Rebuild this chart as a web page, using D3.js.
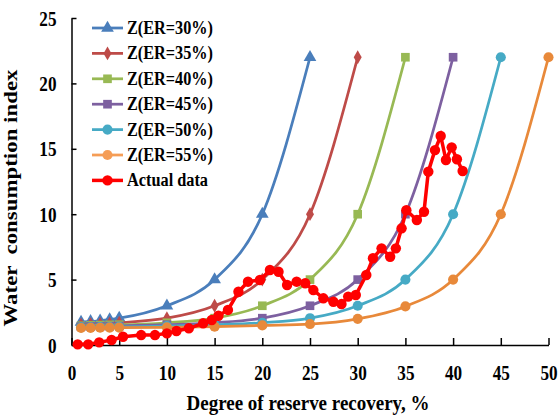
<!DOCTYPE html>
<html>
<head>
<meta charset="utf-8">
<script src="https://cdn.jsdelivr.net/npm/d3@7"></script>
<style>
  body { margin: 0; background: #fff; }
  text { font-family: "Liberation Serif", "Times New Roman", serif; font-weight: bold; fill: #000; }
</style>
</head>
<body>
<div id="chart"></div>
<script>
// degree of reserve recovery (x) for the model curves
const xCurve = [1, 2, 3, 4, 5, 10, 15, 20, 25, 30, 35, 40, 45, 50];

// model curves Z(ER)
const z30 = [1.75, 1.8, 1.85, 1.95, 2.05, 3.0, 5.0, 10.0, 22];
const z35 = [1.55, 1.6, 1.62, 1.65, 1.7, 2.05, 3.0, 5.0, 10.0, 22];
const z40 = [1.47, 1.5, 1.52, 1.54, 1.55, 1.7, 2.05, 3.0, 5.0, 10.0, 22];
const z45 = [1.4, 1.42, 1.43, 1.44, 1.45, 1.55, 1.7, 2.05, 3.0, 5.0, 10.0, 22];
const z50 = [1.35, 1.36, 1.37, 1.38, 1.39, 1.45, 1.55, 1.7, 2.05, 3.0, 5.0, 10.0, 22];
const z55 = [1.3, 1.31, 1.32, 1.33, 1.33, 1.35, 1.4, 1.5, 1.6, 2.0, 2.95, 5.0, 10.0, 22];

// actual data
const actualX = [0.65, 1.75, 2.9, 4.2, 5.4, 7.3, 8.75, 10.0, 11.0, 12.3, 13.8, 14.7, 15.4, 16.4, 17.5, 18.5, 19.75, 20.8, 21.7,
  22.6, 23.6, 24.5, 25.35, 26.4, 27.45, 28.3, 29.0, 29.8, 30.9, 31.6, 32.5, 33.4, 34.0, 34.6, 35.1, 36.2, 36.95, 37.4,
  38.1, 38.7, 39.25, 39.85, 40.4, 41.0];
const actualY = [0.05, 0.05, 0.2, 0.38, 0.63, 0.76, 0.76, 0.89, 1.07, 1.28, 1.66, 1.91, 2.24, 2.68, 4.07, 4.84, 4.97, 5.73, 5.6,
  4.59, 4.84, 4.72, 4.2, 3.57, 3.31, 3.13, 3.7, 3.82, 5.35, 6.63, 7.39, 6.75, 7.39, 8.92, 10.3, 9.56, 10.19, 13.25,
  14.9, 15.98, 14.14, 15.11, 14.2, 13.3];

const seriesNames = ["Z(ER=30%)", "Z(ER=35%)", "Z(ER=40%)", "Z(ER=45%)", "Z(ER=50%)", "Z(ER=55%)", "Actual data"];
const seriesValues = [z30, z35, z40, z45, z50, z55];
const colors = ["#4A7EBB", "#BE4B48", "#98B954", "#7D60A0", "#46AAC5", "#F59D56", "#FF0000"];
const colorsCurve = ["#4A7EBB", "#BE4B48", "#98B954", "#7D60A0", "#46AAC5", "#E8893A", "#FF0000"];
const symbols = [d3.symbolTriangle, d3.symbolDiamond, d3.symbolSquare, d3.symbolSquare, d3.symbolCircle, d3.symbolCircle, d3.symbolCircle];
const symbolSizes = [70, 55, 75, 75, 80, 80, 85];

const xTicks = [0, 5, 10, 15, 20, 25, 30, 35, 40, 45, 50];
const yTicks = [0, 5, 10, 15, 20, 25];

const width = 560;
const height = 417;
const squeeze = 0.78; //text in the picture looks tall and narrow

const x = d3.scaleLinear().domain([0, 50]).range([71.5, 548.5]);
const y = d3.scaleLinear().domain([0, 25]).range([345, 18]);

const svg = d3.select("#chart").append("svg")
    .attr("width", width)
    .attr("height", height);

// axes
const xAxis = svg.append("g")
    .attr("transform", `translate(0, ${y(0)})`)
    .call(d3.axisBottom(x).tickValues(xTicks).tickSizeInner(-7).tickSizeOuter(0).tickPadding(19))
xAxis.selectAll("text").style("font-size", "22px").attr("transform", `scale(${squeeze},1)`)
xAxis.select(".domain").attr("stroke-width", 1.5)
xAxis.selectAll(".tick line").attr("stroke-width", 1.5)

const yAxis = svg.append("g")
    .attr("transform", `translate(${x(0)}, 0)`)
    .call(d3.axisLeft(y).tickValues(yTicks).tickSizeInner(-5).tickSizeOuter(0))
yAxis.selectAll("text").style("font-size", "22px")
    .attr("transform", `scale(${squeeze},1)`)
    .attr("x", -15 / squeeze)
yAxis.select(".domain").attr("stroke-width", 1.5)
yAxis.selectAll(".tick line").attr("stroke-width", 1.5)

// axis titles
svg.append("text")
    .attr("text-anchor", "middle")
    .attr("x", 308)
    .attr("y", 410)
    .attr("textLength", 243)
    .attr("lengthAdjust", "spacingAndGlyphs")
    .style("font-size", "20px")
    .text("Degree of reserve recovery, %")

svg.append("text")
    .attr("text-anchor", "middle")
    .attr("transform", `translate(17, 198) rotate(-90)`)
    .attr("textLength", 257)
    .attr("lengthAdjust", "spacingAndGlyphs")
    .attr("xml:space", "preserve")
    .style("font-size", "18px")
    .text("Water  consumption index")

// model curves
const smooth = d3.line().curve(d3.curveMonotoneX).x(d => x(d[0])).y(d => y(d[1]));
const straight = d3.line().x(d => x(d[0])).y(d => y(d[1]));

const allSeries = seriesValues.map(vals => vals.map((v, i) => [xCurve[i], v]));
allSeries.push(actualX.map((v, i) => [v, actualY[i]]));

allSeries.forEach((pts, i) => {
    const g = svg.append("g")
    g.append("path")
        .attr("d", i < 6 ? smooth(pts) : straight(pts))
        .attr("fill", "none")
        .attr("stroke", colorsCurve[i])
        .attr("stroke-width", i < 6 ? 2.75 : 3.5)
    g.selectAll("path.mark").data(pts).join("path")
        .attr("class", "mark")
        .attr("transform", d => `translate(${x(d[0])}, ${y(d[1])})`)
        .attr("d", d3.symbol().type(symbols[i]).size(symbolSizes[i]))
        .attr("fill", colorsCurve[i])
})

// legend
const legendLen = [86, 86, 86, 86, 86, 86, 81];
const legend = svg.append("g")
seriesNames.forEach((name, i) => {
    const ly = 28 + i * 25.4;
    legend.append("line")
        .attr("x1", 92).attr("x2", 123)
        .attr("y1", ly).attr("y2", ly)
        .attr("stroke", colors[i])
        .attr("stroke-width", i < 6 ? 2.75 : 3.5)
    legend.append("path")
        .attr("transform", `translate(107.5, ${ly})`)
        .attr("d", d3.symbol().type(symbols[i]).size(symbolSizes[i]))
        .attr("fill", colors[i])
    legend.append("text")
        .attr("x", 127)
        .attr("y", ly + 6)
        .attr("textLength", legendLen[i])
        .attr("lengthAdjust", "spacingAndGlyphs")
        .style("font-size", "18px")
        .text(name)
})
</script>
</body>
</html>
